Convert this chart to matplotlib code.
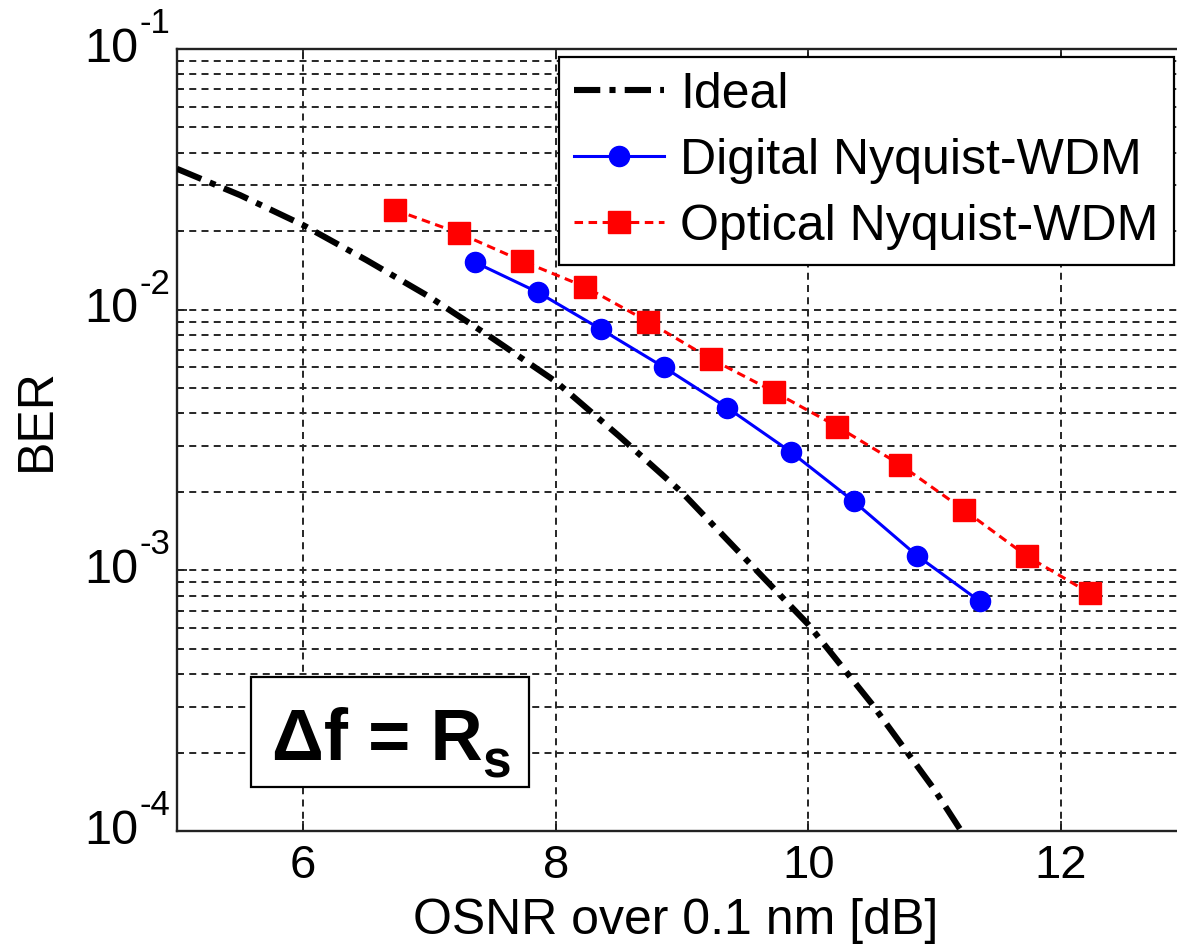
import matplotlib
matplotlib.use("Agg")
import matplotlib.pyplot as plt
from matplotlib import transforms
from matplotlib.patches import Rectangle
from matplotlib.ticker import FixedLocator, LogLocator, NullFormatter

# ---- data -------------------------------------------------------------
osnr_ideal = [5.0, 5.5, 6.0, 6.5, 7.0, 7.5, 8.0, 8.5, 9.0, 9.5, 10.0, 10.5, 11.0, 11.2]
ber_ideal = [3.47e-2, 2.75e-2, 2.11e-2, 1.55e-2, 1.12e-2, 7.76e-3, 5.30e-3, 3.28e-3,
             1.99e-3, 1.11e-3, 6.2e-4, 3.09e-4, 1.44e-4, 1.02e-4]

osnr_digital = [7.36, 7.86, 8.36, 8.86, 9.36, 9.86, 10.36, 10.86, 11.36]
ber_digital = [1.52e-2, 1.165e-2, 8.4e-3, 6.0e-3, 4.2e-3, 2.85e-3, 1.84e-3, 1.14e-3, 7.6e-4]

osnr_optical = [6.73, 7.23, 7.73, 8.23, 8.73, 9.23, 9.73, 10.23, 10.73, 11.23, 11.73, 12.23]
ber_optical = [2.41e-2, 1.97e-2, 1.54e-2, 1.225e-2, 9.0e-3, 6.47e-3, 4.84e-3, 3.56e-3,
               2.54e-3, 1.71e-3, 1.135e-3, 8.17e-4]

series_labels = ["Ideal", "Digital Nyquist-WDM", "Optical Nyquist-WDM"]
x_ticks = [6, 8, 10, 12]
y_decades = [-4, -3, -2, -1]
x_label = "OSNR over 0.1 nm [dB]"
y_label = "BER"

# ---- figure -----------------------------------------------------------
plt.rcParams["font.family"] = ["Liberation Sans", "DejaVu Sans"]

W, H = 1177, 949
fig = plt.figure(figsize=(W / 100, H / 100), dpi=100)
ax = fig.add_axes([177 / W, 118 / H, 1010 / W, 782 / H])

ax.plot(osnr_ideal, ber_ideal, color="black", lw=4.4,
        dashes=[4.3, 1.5, 1.0, 1.5], dash_capstyle="butt",
        label=series_labels[0], zorder=3)
ax.plot(osnr_digital, ber_digital, color="#0000ff", lw=2.2, marker="o", ms=14.5,
        mec="#0000ff", mfc="#0000ff", label=series_labels[1], zorder=4)
ax.plot(osnr_optical, ber_optical, color="#ff0000", lw=2.2, ls=(0, (2.8, 1.8)),
        marker="s", ms=15.5, mec="#ff0000", mfc="#ff0000",
        label=series_labels[2], zorder=4)

ax.set_yscale("log")
ax.set_xlim(5, 13)
ax.set_ylim(10.0 ** y_decades[0], 10.0 ** y_decades[-1])

ax.xaxis.set_major_locator(FixedLocator(x_ticks))
ax.set_xticklabels([str(t) for t in x_ticks], fontsize=34)
ax.yaxis.set_major_locator(FixedLocator([10.0 ** d for d in y_decades]))
ax.yaxis.set_minor_locator(LogLocator(base=10, subs=range(2, 10)))
ax.yaxis.set_major_formatter(NullFormatter())
ax.yaxis.set_minor_formatter(NullFormatter())

ax.tick_params(which="both", direction="in", top=True, right=True,
               color="#222222", width=1.3)
ax.tick_params(which="major", length=7, pad=9)
ax.tick_params(which="minor", length=3.5)

for sp in ax.spines.values():
    sp.set_linewidth(1.7)
    sp.set_color("#222222")

grid_style = dict(linestyle=(0, (3.6, 2.7)), linewidth=1.4, color="#262626")
ax.grid(True, which="major", axis="both", **grid_style)
ax.grid(True, which="minor", axis="y", **grid_style)

# y tick labels as 10 with a raised exponent
ytrans = ax.get_yaxis_transform()
for d in y_decades:
    base_tr = ytrans + transforms.ScaledTranslation(-28 / 72, 0, fig.dpi_scale_trans)
    ax.text(0, 10.0 ** d, "10", transform=base_tr, ha="right", va="center",
            fontsize=35, clip_on=False)
    exp_tr = ytrans + transforms.ScaledTranslation(-27 / 72, 11.5 / 72, fig.dpi_scale_trans)
    ax.text(0, 10.0 ** d, str(d), transform=exp_tr,
            ha="left", va="baseline", fontsize=25, clip_on=False)

fig.text(37 / W, 1 - 420 / H, y_label, rotation=90, ha="center", va="center",
         fontsize=36)
fig.text(676 / W, 1 - 921 / H, x_label, ha="center", va="center", fontsize=36)

# annotation box with the channel spacing condition
ax.add_patch(Rectangle((0.073, 0.0566), 0.2758, 0.1407, transform=ax.transAxes,
                       facecolor="white", edgecolor="black", lw=1.6, zorder=5))
ax.text(0.0938, 0.0908, "\u0394f = R", transform=ax.transAxes, ha="left",
        va="baseline", fontsize=52, fontweight="bold", zorder=6)
ax.text(0.302, 0.069, "s", transform=ax.transAxes, ha="left", va="baseline",
        fontsize=37, fontweight="bold", zorder=6)

leg = ax.legend(loc="upper left", bbox_to_anchor=(0.3786, 0.9898),
                borderaxespad=0, fontsize=36, handlelength=1.8,
                handletextpad=0.32, borderpad=0.3, labelspacing=0.40,
                fancybox=False, framealpha=1, edgecolor="black")
leg.get_frame().set_linewidth(1.6)

fig.savefig("out.png", dpi=100)
